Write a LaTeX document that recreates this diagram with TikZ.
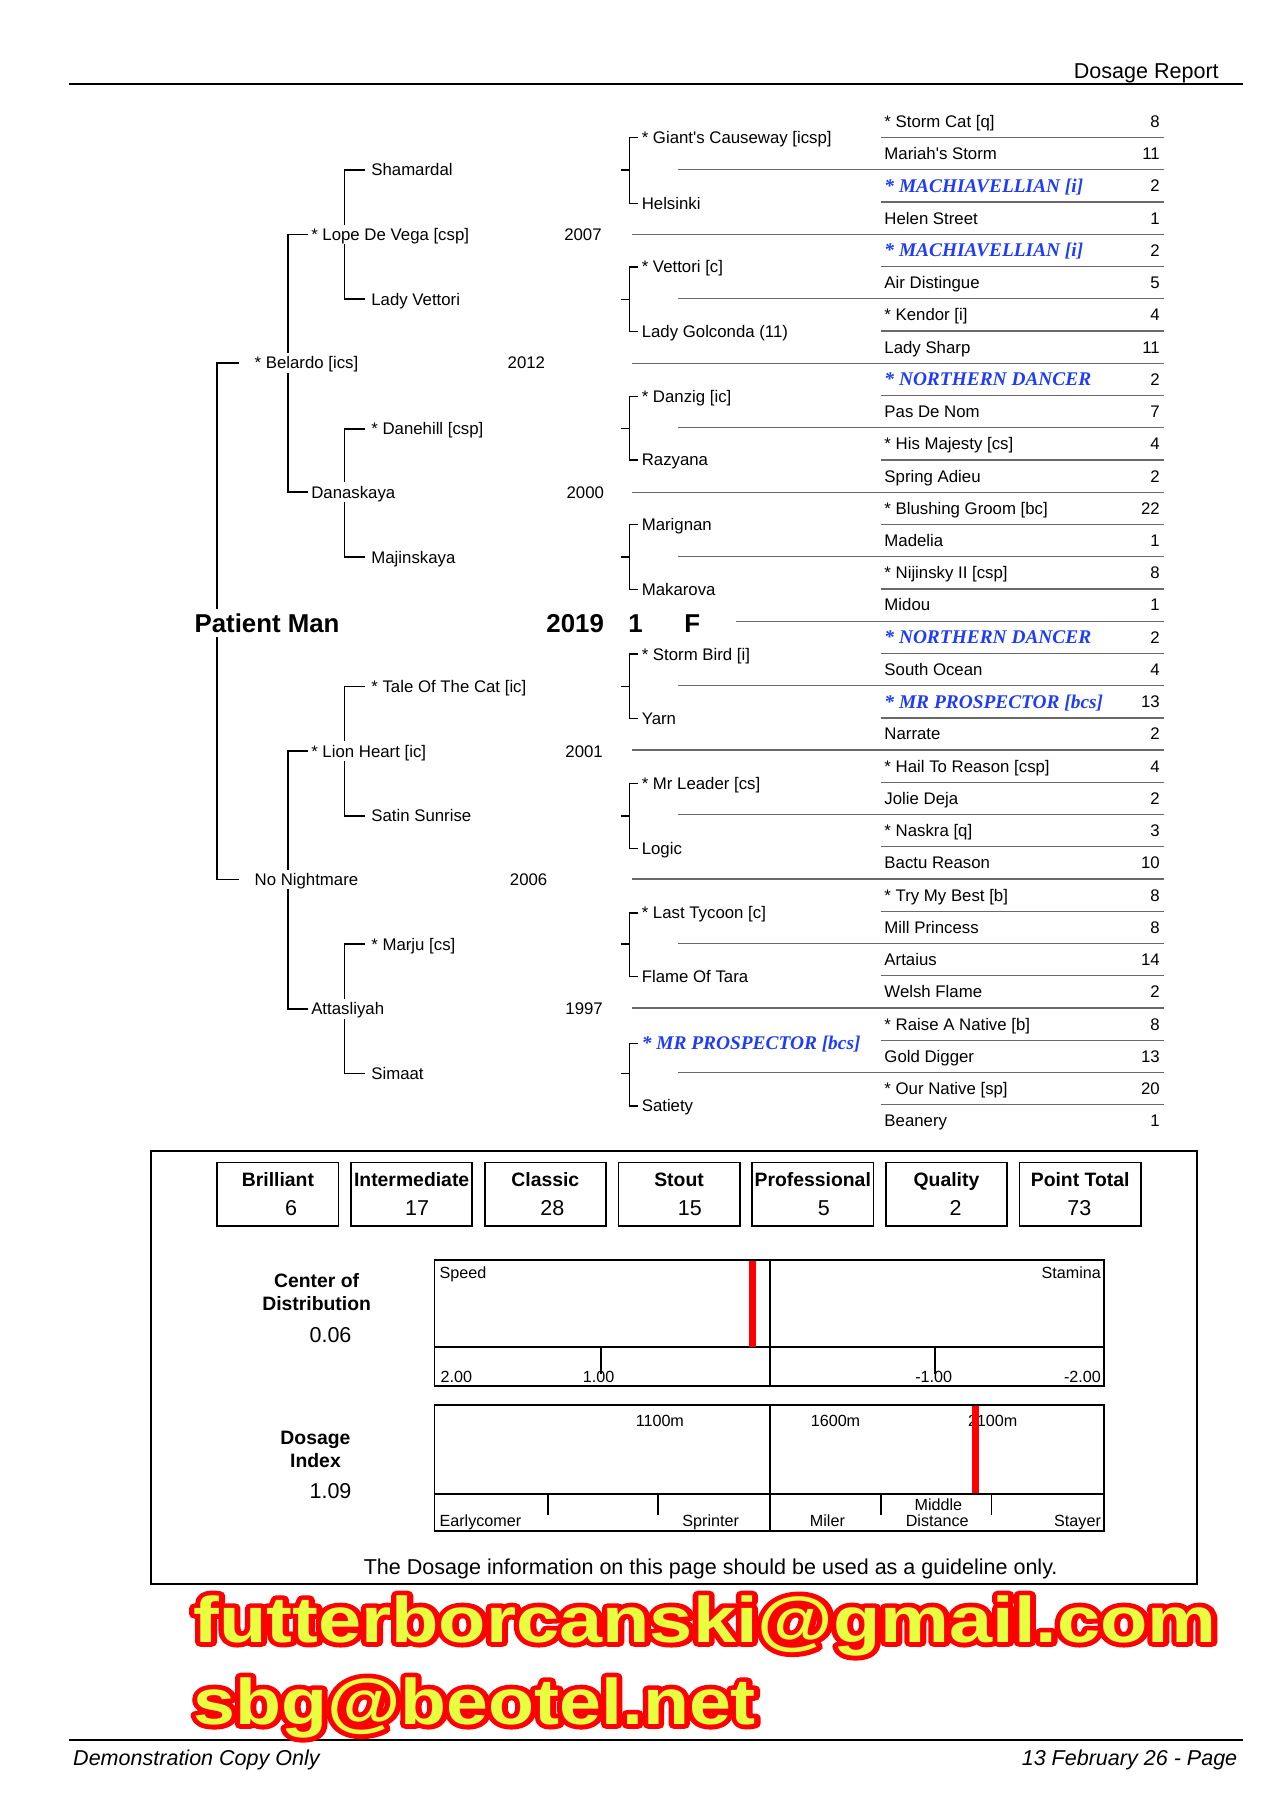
\documentclass[tikz,border=0pt]{standalone}
\usepackage{fontspec}
\setmainfont{Liberation Sans}
\newfontfamily\tnr{Liberation Serif}
\usetikzlibrary{backgrounds,calc}
\definecolor{bluec}{RGB}{30,60,250}
\definecolor{wmy}{RGB}{232,255,64}
\definecolor{wmr}{RGB}{255,0,0}
\definecolor{sepc}{RGB}{105,105,105}
\tikzset{
  t8/.style={anchor=west, inner xsep=0pt, inner ysep=1.8pt, font=\fontsize{7.8}{9.4}\selectfont, text height=5.6pt, text depth=0pt},
  t8r/.style={t8, anchor=east},
  blu/.style={anchor=west, inner xsep=0pt, inner ysep=1.8pt, font=\tnr\fontsize{9}{10.8}\selectfont\bfseries\itshape, text=bluec, text height=6pt, text depth=0pt},
  bigb/.style={anchor=west, inner xsep=0pt, inner ysep=2.2pt, font=\fontsize{12}{14}\selectfont\bfseries, text height=8.6pt, text depth=0pt},
  wf/.style={fill=white},
  lk/.style={draw=black, line width=0.8pt},
  lkf/.style={draw=black, line width=0.6pt},
  sepl/.style={draw=sepc, line width=0.6pt},
  lbl/.style={inner sep=0pt, font=\fontsize{9}{10.8}\selectfont\bfseries, text height=6.5pt, text depth=0pt},
  valn/.style={inner sep=0pt, font=\fontsize{10}{12}\selectfont, text height=7.2pt, text depth=0pt},
  smt/.style={inner sep=0pt, font=\fontsize{7.5}{9}\selectfont, text height=5.4pt, text depth=0pt},
  chart/.style={draw=black, line width=0.9pt},
  dbox/.style={draw=black, line width=0.8pt},
  wm/.style={anchor=base west, inner sep=0pt, font=\fontsize{30}{36}\selectfont\bfseries},
}
\newcommand\brk[5]{\draw[#5] ([xshift=-#4]#1.west) -- (#3 |- #1.west) -- (#3 |- #2.west) -- ([xshift=-#4]#2.west);}
\newcommand\gfive[4]{\node[#4] (r#1) at (765,{105+27.9*#1}) {#2};
  \node[t8r] (n#1) at (1004,{105+27.9*#1}) {#3};}
\newcommand\fatred[1]{\special{pdf:literal direct 2 Tr 4.4 w 1 j}#1\special{pdf:literal direct 0 Tr}}
\begin{document}
\begin{tikzpicture}[x=0.53679pt,y=-0.53679pt]
\useasboundingbox (0,0) rectangle (1109,1568);

% header / footer
\node[anchor=east, inner sep=0pt, font=\fontsize{10}{12}\selectfont, text height=7.2pt, text depth=0pt] (hdr) at (1055,61) {Dosage Report};
\draw[line width=1pt] (60,73) -- (1076,73);
\draw[line width=1pt] (60,1506) -- (1076,1506);
\node[anchor=west, inner sep=0pt, font=\fontsize{10}{12}\selectfont\itshape, text height=7.2pt, text depth=0pt] (ft1) at (63,1521) {Demonstration Copy Only};
\node[anchor=east, inner sep=0pt, font=\fontsize{10}{12}\selectfont\itshape, text height=7.2pt, text depth=0pt] (ft2) at (1071,1521) {13 February 26 - Page};

% coordinates for bracket verticals
\coordinate (v1) at (188,0);
\coordinate (v2) at (249,0);
\coordinate (v3) at (298,0);
\coordinate (v4) at (545,0);
\coordinate (s4) at (537,0);

% generation 0
\node[bigb, wf] (pm) at (168,539) {Patient Man};
\node[bigb, anchor=east] (y0) at (523,539) {2019};
\node[bigb, anchor=center] (num) at (550,539) {1};
\node[bigb, anchor=center] (sex) at (599,539) {F};

% generation 1
\node[t8, wf] (bel) at (220,314) {* Belardo [ics]};
\node[t8r] (ybel) at (472,314) {2012};
\node[t8, wf] (nn) at (220,761) {No Nightmare};
\node[t8r] (ynn) at (474,761) {2006};

% generation 2
\node[t8, wf] (lope) at (269,203) {* Lope De Vega [csp]};
\node[t8r] (ylope) at (521,203) {2007};
\node[t8, wf] (dana) at (269,426) {Danaskaya};
\node[t8r] (ydana) at (523,426) {2000};
\node[t8, wf] (lion) at (269,650) {* Lion Heart [ic]};
\node[t8r] (ylion) at (522,650) {2001};
\node[t8, wf] (atta) at (269,873) {Attasliyah};
\node[t8r] (yatta) at (522,873) {1997};

% generation 3
\node[t8] (sham) at (321,147) {Shamardal};
\node[t8] (ladyv) at (321,259) {Lady Vettori};
\node[t8] (daneh) at (321,371) {* Danehill [csp]};
\node[t8] (majin) at (321,482) {Majinskaya};
\node[t8] (tale) at (321,594) {* Tale Of The Cat [ic]};
\node[t8] (satin) at (321,706) {Satin Sunrise};
\node[t8] (marju) at (321,817) {* Marju [cs]};
\node[t8] (simaat) at (321,929) {Simaat};

% generation 4
\node[t8] (g1) at (555,119) {* Giant\textquotesingle s Causeway [icsp]};
\node[t8] (g2) at (555,176) {Helsinki};
\node[t8] (g3) at (555,231) {* Vettori [c]};
\node[t8] (g4) at (555,287) {Lady Golconda (11)};
\node[t8] (g5) at (555,343) {* Danzig [ic]};
\node[t8] (g6) at (555,398) {Razyana};
\node[t8] (g7) at (555,454) {Marignan};
\node[t8] (g8) at (555,510) {Makarova};
\node[t8] (g9) at (555,566) {* Storm Bird [i]};
\node[t8] (g10) at (555,622) {Yarn};
\node[t8] (g11) at (555,678) {* Mr Leader [cs]};
\node[t8] (g12) at (555,734) {Logic};
\node[t8] (g13) at (555,790) {* Last Tycoon [c]};
\node[t8] (g14) at (555,845) {Flame Of Tara};
\node[blu] (g15) at (555,903) {* MR PROSPECTOR [bcs]};
\node[t8] (g16) at (555,957) {Satiety};

% generation 5
\gfive{0}{* Storm Cat [q]}{8}{t8}
\gfive{1}{Mariah\textquotesingle s Storm}{11}{t8}
\gfive{2}{* MACHIAVELLIAN [i]}{2}{blu}
\gfive{3}{Helen Street}{1}{t8}
\gfive{4}{* MACHIAVELLIAN [i]}{2}{blu}
\gfive{5}{Air Distingue}{5}{t8}
\gfive{6}{* Kendor [i]}{4}{t8}
\gfive{7}{Lady Sharp}{11}{t8}
\gfive{8}{* NORTHERN DANCER}{2}{blu}
\gfive{9}{Pas De Nom}{7}{t8}
\gfive{10}{* His Majesty [cs]}{4}{t8}
\gfive{11}{Spring Adieu}{2}{t8}
\gfive{12}{* Blushing Groom [bc]}{22}{t8}
\gfive{13}{Madelia}{1}{t8}
\gfive{14}{* Nijinsky II [csp]}{8}{t8}
\gfive{15}{Midou}{1}{t8}
\gfive{16}{* NORTHERN DANCER}{2}{blu}
\gfive{17}{South Ocean}{4}{t8}
\gfive{18}{* MR PROSPECTOR [bcs]}{13}{blu}
\gfive{19}{Narrate}{2}{t8}
\gfive{20}{* Hail To Reason [csp]}{4}{t8}
\gfive{21}{Jolie Deja}{2}{t8}
\gfive{22}{* Naskra [q]}{3}{t8}
\gfive{23}{Bactu Reason}{10}{t8}
\gfive{24}{* Try My Best [b]}{8}{t8}
\gfive{25}{Mill Princess}{8}{t8}
\gfive{26}{Artaius}{14}{t8}
\gfive{27}{Welsh Flame}{2}{t8}
\gfive{28}{* Raise A Native [b]}{8}{t8}
\gfive{29}{Gold Digger}{13}{t8}
\gfive{30}{* Our Native [sp]}{20}{t8}
\gfive{31}{Beanery}{1}{t8}

\begin{scope}[on background layer]
  \fill[white] (0,0) rectangle (1109,1568);
  % generation brackets
  \brk{bel}{nn}{v1}{7pt}{lk}
  \brk{lope}{dana}{v2}{1.1pt}{lk}
  \brk{lion}{atta}{v2}{1.1pt}{lk}
  \brk{sham}{ladyv}{v3}{2.7pt}{lk}
  \brk{daneh}{majin}{v3}{2.7pt}{lk}
  \brk{tale}{satin}{v3}{2.7pt}{lk}
  \brk{marju}{simaat}{v3}{2.7pt}{lk}
  % generation 4 brackets and stubs
  \brk{g1}{g2}{v4}{1.6pt}{lkf}
  \brk{g3}{g4}{v4}{1.6pt}{lkf}
  \brk{g5}{g6}{v4}{1.6pt}{lkf}
  \brk{g7}{g8}{v4}{1.6pt}{lkf}
  \brk{g9}{g10}{v4}{1.6pt}{lkf}
  \brk{g11}{g12}{v4}{1.6pt}{lkf}
  \brk{g13}{g14}{v4}{1.6pt}{lkf}
  \brk{g15}{g16}{v4}{1.6pt}{lkf}
  \foreach \p in {sham,ladyv,daneh,majin,tale,satin,marju,simaat}
    \draw[lkf] (s4 |- \p.west) -- (v4 |- \p.west);
  % separators of the last generation
  \foreach \i in {0,...,30}{
    \pgfmathtruncatemacro\m{mod(\i,4)}
    \ifnum\m=1 \def\xs{587}\else\ifnum\m=3 \def\xs{547}\else\def\xs{762}\fi\fi
    \ifnum\i=15 \def\xs{637}\fi
    \draw[sepl] (\xs,{119+27.9*\i}) -- (1007,{119+27.9*\i});
  }
\end{scope}

% dosage panel
\draw[line width=1pt] (131,996) rectangle (1036,1371);
\foreach \l/\v/\vx [count=\k] in {Brilliant/6/252, Intermediate/17/361, Classic/28/478, Stout/15/597, Professional/5/713, Quality/2/827, Point Total/73/934}{
  \pgfmathsetmacro\bx{188+115.7*(\k-1)}
  \draw[dbox] (\bx,1006) rectangle ({\bx+105},1061);
  \node[lbl] (bl\k) at ({\bx+52.5},1021) {\l};
  \node[valn] (bv\k) at (\vx,1045) {\v};
}

% centre of distribution
\node[lbl] (cd1) at (274,1108) {Center of};
\node[lbl] (cd2) at (274,1128) {Distribution};
\node[valn] (cd3) at (286,1155) {0.06};
\draw[chart] (376,1090) rectangle (955,1199);
\draw[chart] (376,1166) -- (955,1166);
\draw[chart] (666,1090) -- (666,1199);
\draw[chart] (520,1166) -- (520,1189);
\draw[chart] (809,1166) -- (809,1189);
\node[smt, anchor=west] (sp) at (380,1101) {Speed};
\node[smt, anchor=east] (st) at (953,1101) {Stamina};
\node[smt, anchor=west] (c1) at (381,1191) {2.00};
\node[smt] (c2) at (518,1191) {1.00};
\node[smt] (c3) at (808,1191) {-1.00};
\node[smt, anchor=east] (c4) at (953,1191) {-2.00};
\fill[red] (648,1091) rectangle (654,1166);

% dosage index
\node[lbl] (di1) at (273,1244) {Dosage};
\node[lbl] (di2) at (273,1264) {Index};
\node[valn] (di3) at (286,1290) {1.09};
\draw[chart] (376,1216) rectangle (955,1325);
\draw[chart] (376,1293) -- (955,1293);
\draw[chart] (666,1216) -- (666,1325);
\foreach \tx in {474,569,762,858} \draw[chart] (\tx,1293) -- (\tx,1311);
\node[smt] (m1) at (571,1229) {1100m};
\node[smt] (m2) at (723,1229) {1600m};
\node[smt] (m3) at (859,1229) {2100m};
\node[smt, anchor=west] (e1) at (380,1316) {Earlycomer};
\node[smt] (e2) at (615,1316) {Sprinter};
\node[smt] (e3) at (716,1316) {Miler};
\node[smt] (e4) at (812,1302) {Middle};
\node[smt] (e5) at (811,1316) {Distance};
\node[smt, anchor=east] (e6) at (953,1316) {Stayer};
\fill[red] (841,1217) rectangle (847,1292);

\node[valn] (guide) at (615,1356) {The Dosage information on this page should be used as a guideline only.};

% watermark e-mails: red stroked copy under yellow copy
\node[wm, text=wmr, xscale=1.2] (wa0) at (167,1421) {\fatred{futterborcanski@gmail.com}};
\node[wm, text=wmr, xscale=1.165] (wb0) at (167,1492) {\fatred{sbg@beotel.net}};
\node[wm, text=wmy, xscale=1.2] (wa) at (167,1421) {futterborcanski@gmail.com};
\node[wm, text=wmy, xscale=1.165] (wb) at (167,1492) {sbg@beotel.net};
\end{tikzpicture}
\end{document}
